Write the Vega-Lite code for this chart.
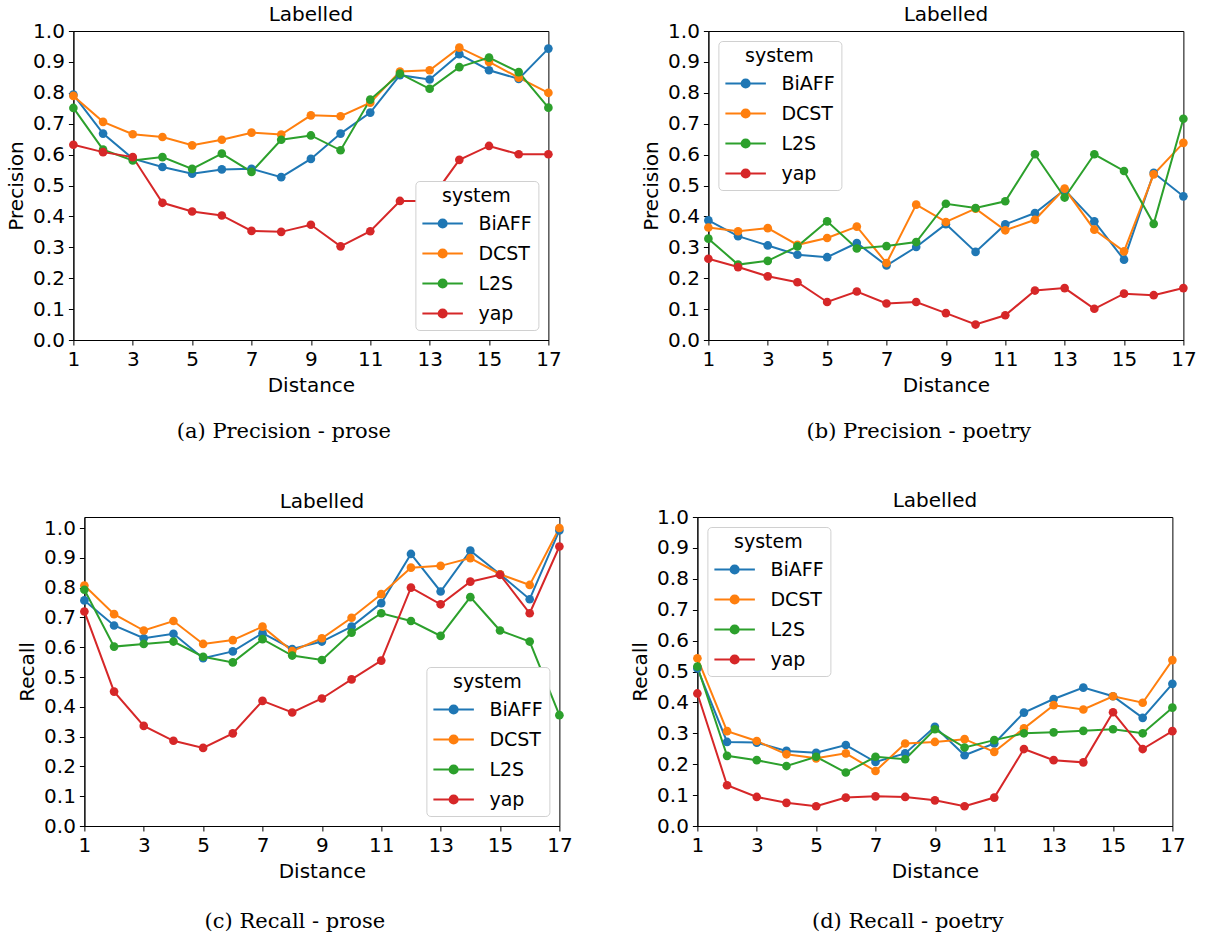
{
"$schema": "https://vega.github.io/schema/vega-lite/v6.json",
"padding": {"left": 6, "top": 4, "right": 5, "bottom": 5},
"background": "white",
"config": {
  "font": "DejaVu Sans",
  "view": {"stroke": "black", "strokeWidth": 1},
  "axis": {"grid": false, "domainColor": "black", "tickColor": "black", "tickSize": 5, "labelColor": "black", "labelFont": "DejaVu Sans", "labelFontSize": 20, "labelPadding": 4, "titleFont": "DejaVu Sans", "titleFontSize": 20, "titleFontWeight": "normal", "titleColor": "black", "titlePadding": 6, "labelFlush": false},
  "title": {"font": "DejaVu Sans", "fontSize": 20, "fontWeight": "normal", "color": "black", "offset": -4},
  "legend": {"titleFont": "DejaVu Sans", "titleFontSize": 19, "titleFontWeight": "normal", "titleColor": "black", "labelFont": "DejaVu Sans", "labelFontSize": 19, "labelColor": "black", "symbolType": "M-1,0H2M0.8,0A0.3,0.3 0 1 1 0.2,0A0.3,0.3 0 1 1 0.8,0", "symbolSize": 729, "symbolStrokeWidth": 2, "labelOffset": 28, "padding": 6, "rowPadding": 5, "titlePadding": 3, "strokeColor": "#d0d0d0", "fillColor": "white", "cornerRadius": 4, "titleAnchor": "middle", "offset": 10}
},
"data": {"values": [
{"p":"a","s":"BiAFF","d":1,"v":0.794},{"p":"a","s":"BiAFF","d":2,"v":0.668},{"p":"a","s":"BiAFF","d":3,"v":0.587},{"p":"a","s":"BiAFF","d":4,"v":0.56},{"p":"a","s":"BiAFF","d":5,"v":0.538},{"p":"a","s":"BiAFF","d":6,"v":0.552},{"p":"a","s":"BiAFF","d":7,"v":0.554},{"p":"a","s":"BiAFF","d":8,"v":0.527},{"p":"a","s":"BiAFF","d":9,"v":0.586},{"p":"a","s":"BiAFF","d":10,"v":0.668},{"p":"a","s":"BiAFF","d":11,"v":0.736},{"p":"a","s":"BiAFF","d":12,"v":0.857},{"p":"a","s":"BiAFF","d":13,"v":0.843},{"p":"a","s":"BiAFF","d":14,"v":0.925},{"p":"a","s":"BiAFF","d":15,"v":0.873},{"p":"a","s":"BiAFF","d":16,"v":0.845},{"p":"a","s":"BiAFF","d":17,"v":0.943},
{"p":"a","s":"DCST","d":1,"v":0.79},{"p":"a","s":"DCST","d":2,"v":0.706},{"p":"a","s":"DCST","d":3,"v":0.666},{"p":"a","s":"DCST","d":4,"v":0.657},{"p":"a","s":"DCST","d":5,"v":0.63},{"p":"a","s":"DCST","d":6,"v":0.648},{"p":"a","s":"DCST","d":7,"v":0.671},{"p":"a","s":"DCST","d":8,"v":0.665},{"p":"a","s":"DCST","d":9,"v":0.727},{"p":"a","s":"DCST","d":10,"v":0.724},{"p":"a","s":"DCST","d":11,"v":0.768},{"p":"a","s":"DCST","d":12,"v":0.869},{"p":"a","s":"DCST","d":13,"v":0.873},{"p":"a","s":"DCST","d":14,"v":0.946},{"p":"a","s":"DCST","d":15,"v":0.9},{"p":"a","s":"DCST","d":16,"v":0.849},{"p":"a","s":"DCST","d":17,"v":0.8},
{"p":"a","s":"L2S","d":1,"v":0.751},{"p":"a","s":"L2S","d":2,"v":0.616},{"p":"a","s":"L2S","d":3,"v":0.581},{"p":"a","s":"L2S","d":4,"v":0.592},{"p":"a","s":"L2S","d":5,"v":0.554},{"p":"a","s":"L2S","d":6,"v":0.603},{"p":"a","s":"L2S","d":7,"v":0.544},{"p":"a","s":"L2S","d":8,"v":0.648},{"p":"a","s":"L2S","d":9,"v":0.662},{"p":"a","s":"L2S","d":10,"v":0.614},{"p":"a","s":"L2S","d":11,"v":0.778},{"p":"a","s":"L2S","d":12,"v":0.862},{"p":"a","s":"L2S","d":13,"v":0.813},{"p":"a","s":"L2S","d":14,"v":0.883},{"p":"a","s":"L2S","d":15,"v":0.914},{"p":"a","s":"L2S","d":16,"v":0.867},{"p":"a","s":"L2S","d":17,"v":0.752},
{"p":"a","s":"yap","d":1,"v":0.632},{"p":"a","s":"yap","d":2,"v":0.608},{"p":"a","s":"yap","d":3,"v":0.592},{"p":"a","s":"yap","d":4,"v":0.444},{"p":"a","s":"yap","d":5,"v":0.416},{"p":"a","s":"yap","d":6,"v":0.403},{"p":"a","s":"yap","d":7,"v":0.353},{"p":"a","s":"yap","d":8,"v":0.35},{"p":"a","s":"yap","d":9,"v":0.373},{"p":"a","s":"yap","d":10,"v":0.303},{"p":"a","s":"yap","d":11,"v":0.352},{"p":"a","s":"yap","d":12,"v":0.45},{"p":"a","s":"yap","d":13,"v":0.45},{"p":"a","s":"yap","d":14,"v":0.583},{"p":"a","s":"yap","d":15,"v":0.628},{"p":"a","s":"yap","d":16,"v":0.601},{"p":"a","s":"yap","d":17,"v":0.601},
{"p":"b","s":"BiAFF","d":1,"v":0.387},{"p":"b","s":"BiAFF","d":2,"v":0.336},{"p":"b","s":"BiAFF","d":3,"v":0.306},{"p":"b","s":"BiAFF","d":4,"v":0.276},{"p":"b","s":"BiAFF","d":5,"v":0.268},{"p":"b","s":"BiAFF","d":6,"v":0.314},{"p":"b","s":"BiAFF","d":7,"v":0.241},{"p":"b","s":"BiAFF","d":8,"v":0.301},{"p":"b","s":"BiAFF","d":9,"v":0.375},{"p":"b","s":"BiAFF","d":10,"v":0.285},{"p":"b","s":"BiAFF","d":11,"v":0.374},{"p":"b","s":"BiAFF","d":12,"v":0.411},{"p":"b","s":"BiAFF","d":13,"v":0.486},{"p":"b","s":"BiAFF","d":14,"v":0.384},{"p":"b","s":"BiAFF","d":15,"v":0.26},{"p":"b","s":"BiAFF","d":16,"v":0.541},{"p":"b","s":"BiAFF","d":17,"v":0.465},
{"p":"b","s":"DCST","d":1,"v":0.364},{"p":"b","s":"DCST","d":2,"v":0.352},{"p":"b","s":"DCST","d":3,"v":0.362},{"p":"b","s":"DCST","d":4,"v":0.308},{"p":"b","s":"DCST","d":5,"v":0.33},{"p":"b","s":"DCST","d":6,"v":0.367},{"p":"b","s":"DCST","d":7,"v":0.249},{"p":"b","s":"DCST","d":8,"v":0.438},{"p":"b","s":"DCST","d":9,"v":0.382},{"p":"b","s":"DCST","d":10,"v":0.425},{"p":"b","s":"DCST","d":11,"v":0.355},{"p":"b","s":"DCST","d":12,"v":0.389},{"p":"b","s":"DCST","d":13,"v":0.49},{"p":"b","s":"DCST","d":14,"v":0.357},{"p":"b","s":"DCST","d":15,"v":0.287},{"p":"b","s":"DCST","d":16,"v":0.536},{"p":"b","s":"DCST","d":17,"v":0.638},
{"p":"b","s":"L2S","d":1,"v":0.328},{"p":"b","s":"L2S","d":2,"v":0.244},{"p":"b","s":"L2S","d":3,"v":0.256},{"p":"b","s":"L2S","d":4,"v":0.303},{"p":"b","s":"L2S","d":5,"v":0.384},{"p":"b","s":"L2S","d":6,"v":0.296},{"p":"b","s":"L2S","d":7,"v":0.304},{"p":"b","s":"L2S","d":8,"v":0.317},{"p":"b","s":"L2S","d":9,"v":0.441},{"p":"b","s":"L2S","d":10,"v":0.427},{"p":"b","s":"L2S","d":11,"v":0.449},{"p":"b","s":"L2S","d":12,"v":0.601},{"p":"b","s":"L2S","d":13,"v":0.461},{"p":"b","s":"L2S","d":14,"v":0.601},{"p":"b","s":"L2S","d":15,"v":0.547},{"p":"b","s":"L2S","d":16,"v":0.376},{"p":"b","s":"L2S","d":17,"v":0.716},
{"p":"b","s":"yap","d":1,"v":0.263},{"p":"b","s":"yap","d":2,"v":0.236},{"p":"b","s":"yap","d":3,"v":0.206},{"p":"b","s":"yap","d":4,"v":0.187},{"p":"b","s":"yap","d":5,"v":0.123},{"p":"b","s":"yap","d":6,"v":0.157},{"p":"b","s":"yap","d":7,"v":0.118},{"p":"b","s":"yap","d":8,"v":0.123},{"p":"b","s":"yap","d":9,"v":0.087},{"p":"b","s":"yap","d":10,"v":0.05},{"p":"b","s":"yap","d":11,"v":0.08},{"p":"b","s":"yap","d":12,"v":0.16},{"p":"b","s":"yap","d":13,"v":0.168},{"p":"b","s":"yap","d":14,"v":0.101},{"p":"b","s":"yap","d":15,"v":0.15},{"p":"b","s":"yap","d":16,"v":0.145},{"p":"b","s":"yap","d":17,"v":0.168},
{"p":"c","s":"BiAFF","d":1,"v":0.757},{"p":"c","s":"BiAFF","d":2,"v":0.673},{"p":"c","s":"BiAFF","d":3,"v":0.63},{"p":"c","s":"BiAFF","d":4,"v":0.645},{"p":"c","s":"BiAFF","d":5,"v":0.563},{"p":"c","s":"BiAFF","d":6,"v":0.586},{"p":"c","s":"BiAFF","d":7,"v":0.647},{"p":"c","s":"BiAFF","d":8,"v":0.594},{"p":"c","s":"BiAFF","d":9,"v":0.619},{"p":"c","s":"BiAFF","d":10,"v":0.669},{"p":"c","s":"BiAFF","d":11,"v":0.748},{"p":"c","s":"BiAFF","d":12,"v":0.913},{"p":"c","s":"BiAFF","d":13,"v":0.787},{"p":"c","s":"BiAFF","d":14,"v":0.924},{"p":"c","s":"BiAFF","d":15,"v":0.845},{"p":"c","s":"BiAFF","d":16,"v":0.761},{"p":"c","s":"BiAFF","d":17,"v":0.992},
{"p":"c","s":"DCST","d":1,"v":0.807},{"p":"c","s":"DCST","d":2,"v":0.711},{"p":"c","s":"DCST","d":3,"v":0.656},{"p":"c","s":"DCST","d":4,"v":0.688},{"p":"c","s":"DCST","d":5,"v":0.611},{"p":"c","s":"DCST","d":6,"v":0.624},{"p":"c","s":"DCST","d":7,"v":0.669},{"p":"c","s":"DCST","d":8,"v":0.587},{"p":"c","s":"DCST","d":9,"v":0.63},{"p":"c","s":"DCST","d":10,"v":0.699},{"p":"c","s":"DCST","d":11,"v":0.778},{"p":"c","s":"DCST","d":12,"v":0.867},{"p":"c","s":"DCST","d":13,"v":0.873},{"p":"c","s":"DCST","d":14,"v":0.899},{"p":"c","s":"DCST","d":15,"v":0.845},{"p":"c","s":"DCST","d":16,"v":0.809},{"p":"c","s":"DCST","d":17,"v":1.0},
{"p":"c","s":"L2S","d":1,"v":0.793},{"p":"c","s":"L2S","d":2,"v":0.602},{"p":"c","s":"L2S","d":3,"v":0.611},{"p":"c","s":"L2S","d":4,"v":0.619},{"p":"c","s":"L2S","d":5,"v":0.568},{"p":"c","s":"L2S","d":6,"v":0.549},{"p":"c","s":"L2S","d":7,"v":0.627},{"p":"c","s":"L2S","d":8,"v":0.572},{"p":"c","s":"L2S","d":9,"v":0.557},{"p":"c","s":"L2S","d":10,"v":0.649},{"p":"c","s":"L2S","d":11,"v":0.714},{"p":"c","s":"L2S","d":12,"v":0.688},{"p":"c","s":"L2S","d":13,"v":0.638},{"p":"c","s":"L2S","d":14,"v":0.768},{"p":"c","s":"L2S","d":15,"v":0.656},{"p":"c","s":"L2S","d":16,"v":0.619},{"p":"c","s":"L2S","d":17,"v":0.372},
{"p":"c","s":"yap","d":1,"v":0.72},{"p":"c","s":"yap","d":2,"v":0.451},{"p":"c","s":"yap","d":3,"v":0.336},{"p":"c","s":"yap","d":4,"v":0.286},{"p":"c","s":"yap","d":5,"v":0.262},{"p":"c","s":"yap","d":6,"v":0.311},{"p":"c","s":"yap","d":7,"v":0.42},{"p":"c","s":"yap","d":8,"v":0.381},{"p":"c","s":"yap","d":9,"v":0.428},{"p":"c","s":"yap","d":10,"v":0.492},{"p":"c","s":"yap","d":11,"v":0.555},{"p":"c","s":"yap","d":12,"v":0.8},{"p":"c","s":"yap","d":13,"v":0.744},{"p":"c","s":"yap","d":14,"v":0.82},{"p":"c","s":"yap","d":15,"v":0.843},{"p":"c","s":"yap","d":16,"v":0.714},{"p":"c","s":"yap","d":17,"v":0.938},
{"p":"d","s":"BiAFF","d":1,"v":0.51},{"p":"d","s":"BiAFF","d":2,"v":0.272},{"p":"d","s":"BiAFF","d":3,"v":0.27},{"p":"d","s":"BiAFF","d":4,"v":0.243},{"p":"d","s":"BiAFF","d":5,"v":0.237},{"p":"d","s":"BiAFF","d":6,"v":0.262},{"p":"d","s":"BiAFF","d":7,"v":0.207},{"p":"d","s":"BiAFF","d":8,"v":0.235},{"p":"d","s":"BiAFF","d":9,"v":0.321},{"p":"d","s":"BiAFF","d":10,"v":0.229},{"p":"d","s":"BiAFF","d":11,"v":0.267},{"p":"d","s":"BiAFF","d":12,"v":0.367},{"p":"d","s":"BiAFF","d":13,"v":0.411},{"p":"d","s":"BiAFF","d":14,"v":0.448},{"p":"d","s":"BiAFF","d":15,"v":0.42},{"p":"d","s":"BiAFF","d":16,"v":0.35},{"p":"d","s":"BiAFF","d":17,"v":0.46},
{"p":"d","s":"DCST","d":1,"v":0.543},{"p":"d","s":"DCST","d":2,"v":0.307},{"p":"d","s":"DCST","d":3,"v":0.275},{"p":"d","s":"DCST","d":4,"v":0.232},{"p":"d","s":"DCST","d":5,"v":0.219},{"p":"d","s":"DCST","d":6,"v":0.235},{"p":"d","s":"DCST","d":7,"v":0.178},{"p":"d","s":"DCST","d":8,"v":0.267},{"p":"d","s":"DCST","d":9,"v":0.272},{"p":"d","s":"DCST","d":10,"v":0.281},{"p":"d","s":"DCST","d":11,"v":0.24},{"p":"d","s":"DCST","d":12,"v":0.316},{"p":"d","s":"DCST","d":13,"v":0.391},{"p":"d","s":"DCST","d":14,"v":0.377},{"p":"d","s":"DCST","d":15,"v":0.42},{"p":"d","s":"DCST","d":16,"v":0.399},{"p":"d","s":"DCST","d":17,"v":0.537},
{"p":"d","s":"L2S","d":1,"v":0.516},{"p":"d","s":"L2S","d":2,"v":0.227},{"p":"d","s":"L2S","d":3,"v":0.213},{"p":"d","s":"L2S","d":4,"v":0.194},{"p":"d","s":"L2S","d":5,"v":0.224},{"p":"d","s":"L2S","d":6,"v":0.173},{"p":"d","s":"L2S","d":7,"v":0.224},{"p":"d","s":"L2S","d":8,"v":0.216},{"p":"d","s":"L2S","d":9,"v":0.313},{"p":"d","s":"L2S","d":10,"v":0.254},{"p":"d","s":"L2S","d":11,"v":0.278},{"p":"d","s":"L2S","d":12,"v":0.3},{"p":"d","s":"L2S","d":13,"v":0.303},{"p":"d","s":"L2S","d":14,"v":0.308},{"p":"d","s":"L2S","d":15,"v":0.313},{"p":"d","s":"L2S","d":16,"v":0.3},{"p":"d","s":"L2S","d":17,"v":0.383},
{"p":"d","s":"yap","d":1,"v":0.429},{"p":"d","s":"yap","d":2,"v":0.132},{"p":"d","s":"yap","d":3,"v":0.094},{"p":"d","s":"yap","d":4,"v":0.075},{"p":"d","s":"yap","d":5,"v":0.064},{"p":"d","s":"yap","d":6,"v":0.092},{"p":"d","s":"yap","d":7,"v":0.096},{"p":"d","s":"yap","d":8,"v":0.094},{"p":"d","s":"yap","d":9,"v":0.083},{"p":"d","s":"yap","d":10,"v":0.064},{"p":"d","s":"yap","d":11,"v":0.092},{"p":"d","s":"yap","d":12,"v":0.249},{"p":"d","s":"yap","d":13,"v":0.213},{"p":"d","s":"yap","d":14,"v":0.206},{"p":"d","s":"yap","d":15,"v":0.368},{"p":"d","s":"yap","d":16,"v":0.249},{"p":"d","s":"yap","d":17,"v":0.307}
]},
"center": true,
"spacing": 48,
"resolve": {"scale": {"color": "independent"}, "legend": {"color": "independent"}},
"vconcat": [
 {"hconcat": [
  {"title": {"text": "(a) Precision - prose", "orient": "bottom", "anchor": "middle", "font": "DejaVu Serif", "fontSize": 21, "fontWeight": "normal", "offset": 25},
   "resolve": {"scale": {"color": "independent"}, "legend": {"color": "independent"}},
   "vconcat": [{
    "width": 475, "height": 309, "title": {"text": "Labelled", "offset": -4},
    "transform": [{"filter": "datum.p === 'a'"}],
    "encoding": {
      "x": {"field": "d", "type": "quantitative", "scale": {"domain": [1, 17], "nice": false, "zero": false}, "axis": {"values": [1,3,5,7,9,11,13,15,17], "title": "Distance"}},
      "y": {"field": "v", "type": "quantitative", "scale": {"domain": [0, 1], "nice": false}, "axis": {"values": [0,0.1,0.2,0.3,0.4,0.5,0.6,0.7,0.8,0.9,1.0], "format": ".1f", "title": "Precision"}},
      "color": {"field": "s", "type": "nominal", "scale": {"domain": ["BiAFF","DCST","L2S","yap"], "range": ["#1f77b4","#ff7f0e","#2ca02c","#d62728"]}, "legend": {"title": "system", "orient": "bottom-right", "encode": {"symbols": {"update": {"stroke": [{"test": "datum.value === 'BiAFF'", "value": "#1f77b4"}, {"test": "datum.value === 'DCST'", "value": "#ff7f0e"}, {"test": "datum.value === 'L2S'", "value": "#2ca02c"}, {"value": "#d62728"}], "strokeWidth": {"value": 2}, "opacity": {"value": 1}}}}}}
    },
    "layer": [
      {"mark": {"type": "line", "strokeWidth": 2}},
      {"mark": {"type": "point", "filled": true, "size": 75, "opacity": 1}}
    ]
   }]
  },
  {"title": {"text": "(b) Precision - poetry", "orient": "bottom", "anchor": "middle", "font": "DejaVu Serif", "fontSize": 21, "fontWeight": "normal", "offset": 25},
   "resolve": {"scale": {"color": "independent"}, "legend": {"color": "independent"}},
   "vconcat": [{
    "width": 475, "height": 309, "title": {"text": "Labelled", "offset": -4},
    "transform": [{"filter": "datum.p === 'b'"}],
    "encoding": {
      "x": {"field": "d", "type": "quantitative", "scale": {"domain": [1, 17], "nice": false, "zero": false}, "axis": {"values": [1,3,5,7,9,11,13,15,17], "title": "Distance"}},
      "y": {"field": "v", "type": "quantitative", "scale": {"domain": [0, 1], "nice": false}, "axis": {"values": [0,0.1,0.2,0.3,0.4,0.5,0.6,0.7,0.8,0.9,1.0], "format": ".1f", "title": "Precision"}},
      "color": {"field": "s", "type": "nominal", "scale": {"domain": ["BiAFF","DCST","L2S","yap"], "range": ["#1f77b4","#ff7f0e","#2ca02c","#d62728"]}, "legend": {"title": "system", "orient": "top-left", "encode": {"symbols": {"update": {"stroke": [{"test": "datum.value === 'BiAFF'", "value": "#1f77b4"}, {"test": "datum.value === 'DCST'", "value": "#ff7f0e"}, {"test": "datum.value === 'L2S'", "value": "#2ca02c"}, {"value": "#d62728"}], "strokeWidth": {"value": 2}, "opacity": {"value": 1}}}}}}
    },
    "layer": [
      {"mark": {"type": "line", "strokeWidth": 2}},
      {"mark": {"type": "point", "filled": true, "size": 75, "opacity": 1}}
    ]
   }]
  }
 ], "spacing": 78, "resolve": {"scale": {"color": "independent"}, "legend": {"color": "independent"}}},
 {"hconcat": [
  {"title": {"text": "(c) Recall - prose", "orient": "bottom", "anchor": "middle", "font": "DejaVu Serif", "fontSize": 21, "fontWeight": "normal", "offset": 29},
   "resolve": {"scale": {"color": "independent"}, "legend": {"color": "independent"}},
   "vconcat": [{
    "width": 475, "height": 309, "title": {"text": "Labelled", "offset": 5},
    "transform": [{"filter": "datum.p === 'c'"}],
    "encoding": {
      "x": {"field": "d", "type": "quantitative", "scale": {"domain": [1, 17], "nice": false, "zero": false}, "axis": {"values": [1,3,5,7,9,11,13,15,17], "title": "Distance"}},
      "y": {"field": "v", "type": "quantitative", "scale": {"domain": [0, 1.037], "nice": false}, "axis": {"values": [0,0.1,0.2,0.3,0.4,0.5,0.6,0.7,0.8,0.9,1.0], "format": ".1f", "title": "Recall"}},
      "color": {"field": "s", "type": "nominal", "scale": {"domain": ["BiAFF","DCST","L2S","yap"], "range": ["#1f77b4","#ff7f0e","#2ca02c","#d62728"]}, "legend": {"title": "system", "orient": "bottom-right", "encode": {"symbols": {"update": {"stroke": [{"test": "datum.value === 'BiAFF'", "value": "#1f77b4"}, {"test": "datum.value === 'DCST'", "value": "#ff7f0e"}, {"test": "datum.value === 'L2S'", "value": "#2ca02c"}, {"value": "#d62728"}], "strokeWidth": {"value": 2}, "opacity": {"value": 1}}}}}}
    },
    "layer": [
      {"mark": {"type": "line", "strokeWidth": 2}},
      {"mark": {"type": "point", "filled": true, "size": 75, "opacity": 1}}
    ]
   }]
  },
  {"title": {"text": "(d) Recall - poetry", "orient": "bottom", "anchor": "middle", "font": "DejaVu Serif", "fontSize": 21, "fontWeight": "normal", "offset": 29},
   "resolve": {"scale": {"color": "independent"}, "legend": {"color": "independent"}},
   "vconcat": [{
    "width": 475, "height": 309, "title": {"text": "Labelled", "offset": -4},
    "transform": [{"filter": "datum.p === 'd'"}],
    "encoding": {
      "x": {"field": "d", "type": "quantitative", "scale": {"domain": [1, 17], "nice": false, "zero": false}, "axis": {"values": [1,3,5,7,9,11,13,15,17], "title": "Distance"}},
      "y": {"field": "v", "type": "quantitative", "scale": {"domain": [0, 1], "nice": false}, "axis": {"values": [0,0.1,0.2,0.3,0.4,0.5,0.6,0.7,0.8,0.9,1.0], "format": ".1f", "title": "Recall"}},
      "color": {"field": "s", "type": "nominal", "scale": {"domain": ["BiAFF","DCST","L2S","yap"], "range": ["#1f77b4","#ff7f0e","#2ca02c","#d62728"]}, "legend": {"title": "system", "orient": "top-left", "encode": {"symbols": {"update": {"stroke": [{"test": "datum.value === 'BiAFF'", "value": "#1f77b4"}, {"test": "datum.value === 'DCST'", "value": "#ff7f0e"}, {"test": "datum.value === 'L2S'", "value": "#2ca02c"}, {"value": "#d62728"}], "strokeWidth": {"value": 2}, "opacity": {"value": 1}}}}}}
    },
    "layer": [
      {"mark": {"type": "line", "strokeWidth": 2}},
      {"mark": {"type": "point", "filled": true, "size": 75, "opacity": 1}}
    ]
   }]
  }
 ], "spacing": 56, "resolve": {"scale": {"color": "independent"}, "legend": {"color": "independent"}}}
]
}
